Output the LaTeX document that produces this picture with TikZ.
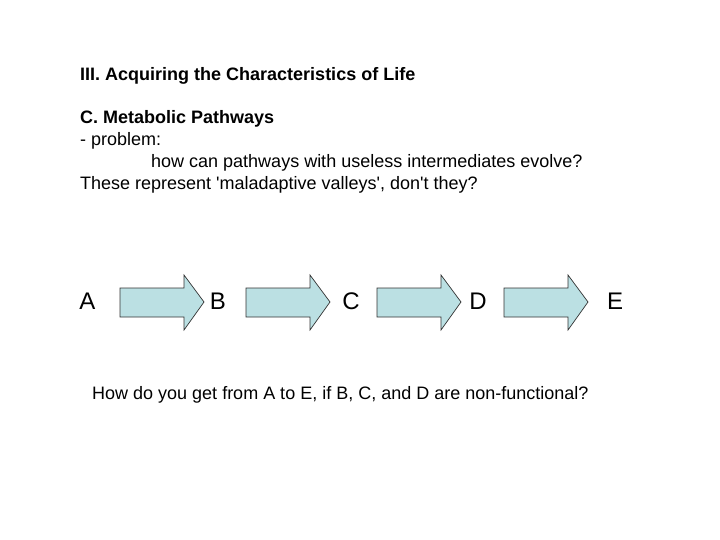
\documentclass[tikz,border=0pt]{standalone}
\usepackage{fontspec}
\setmainfont{Liberation Sans}[Ligatures=TeXOff]
\definecolor{arrowfill}{HTML}{BBE0E3}
\begin{document}
\begin{tikzpicture}[x=1pt,y=-1pt,
  txt/.style={anchor=base west,inner sep=0pt,font=\fontsize{18}{22}\selectfont},
  letter/.style={inner sep=0pt,font=\fontsize{24}{28}\selectfont},
  blockarrow/.style={draw=black!80,fill=arrowfill,line width=0.7pt,line join=miter}]
\useasboundingbox (0,0) rectangle (720,540);
\node[txt,font=\fontsize{18}{22}\selectfont\bfseries] (t1) at (80,81) {III. Acquiring the Characteristics of Life};
\node[txt,font=\fontsize{18}{22}\selectfont\bfseries] (t2) at (80,124) {C. Metabolic Pathways};
\node[txt] (t3) at (80,146) {- problem:};
\node[txt] (t4) at (151,168) {how can pathways with useless intermediates evolve?};
\node[txt] (t5) at (80,190) {These represent 'maladaptive valleys', don't they?};
\foreach \x/\n in {120/a1,246/a2,377/a3,504/a4}{
  \draw[blockarrow] (\x,288) -- (\x+64,288) -- (\x+64,275) -- (\x+84,302) -- (\x+64,330) -- (\x+64,317) -- (\x,317) -- cycle;
}
\node[letter] (A) at (87.5,301) {A};
\node[letter] (B) at (218,301) {B};
\node[letter] (C) at (351,301) {C};
\node[letter] (D) at (478,301) {D};
\node[letter] (E) at (615,301) {E};
\node[txt] (q) at (92,399) {How do you get from A to E, if B, C, and D are non-functional?};
\end{tikzpicture}
\end{document}
